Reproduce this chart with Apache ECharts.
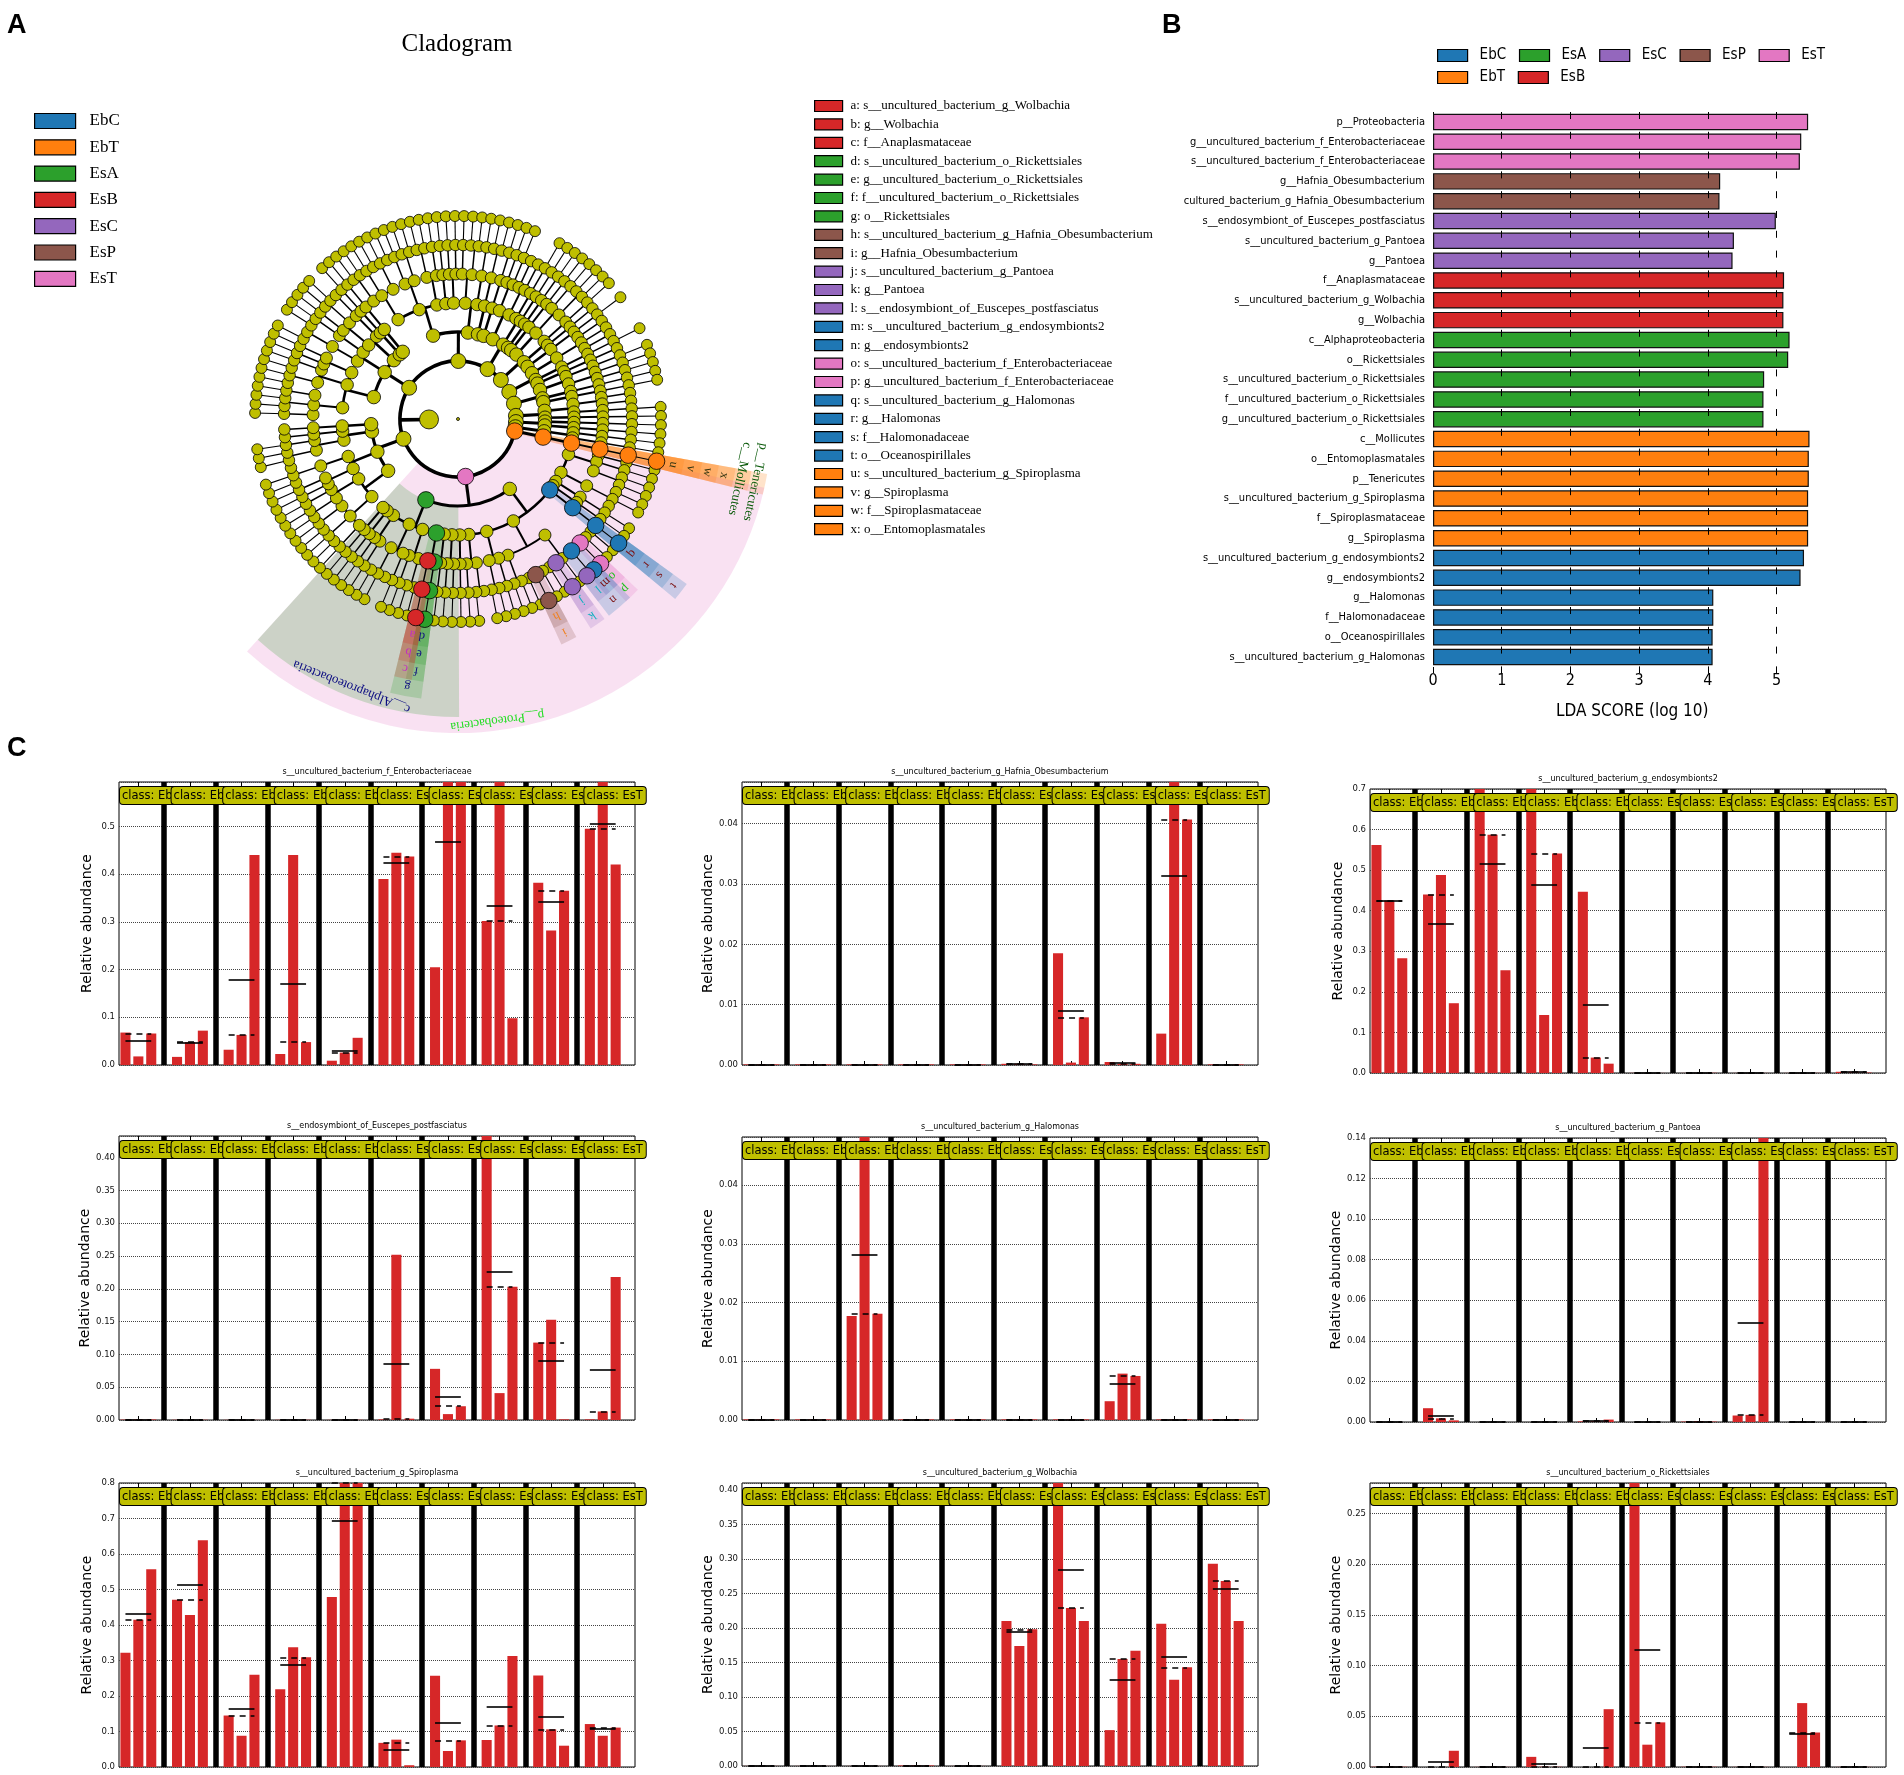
<!DOCTYPE html>
<html>
<head>
<meta charset="utf-8">
<title>LEfSe cladogram, LDA scores and abundances</title>
<script src="https://cdn.jsdelivr.net/npm/echarts@6/dist/echarts.min.js"></script>
<style>
html, body { margin: 0; padding: 0; background: #fff; }
#main { width: 1904px; height: 1775px; }
</style>
</head>
<body>
<div id="main"></div>
<script>
// ---------- data ----------
var classNames  = ['EbC', 'EbT', 'EsA', 'EsB', 'EsC', 'EsP', 'EsT'];
var classColors = ['#1f77b4', '#ff7f0e', '#2ca02c', '#d62728', '#9467bd', '#8c564b', '#e377c2'];

// panel B : LDA scores
var ldaNames = [
    'p__Proteobacteria', 'g__uncultured_bacterium_f_Enterobacteriaceae', 's__uncultured_bacterium_f_Enterobacteriaceae',
    'g__Hafnia_Obesumbacterium', 'cultured_bacterium_g_Hafnia_Obesumbacterium', 's__endosymbiont_of_Euscepes_postfasciatus',
    's__uncultured_bacterium_g_Pantoea', 'g__Pantoea', 'f__Anaplasmataceae', 's__uncultured_bacterium_g_Wolbachia',
    'g__Wolbachia', 'c__Alphaproteobacteria', 'o__Rickettsiales', 's__uncultured_bacterium_o_Rickettsiales',
    'f__uncultured_bacterium_o_Rickettsiales', 'g__uncultured_bacterium_o_Rickettsiales', 'c__Mollicutes',
    'o__Entomoplasmatales', 'p__Tenericutes', 's__uncultured_bacterium_g_Spiroplasma', 'f__Spiroplasmataceae',
    'g__Spiroplasma', 's__uncultured_bacterium_g_endosymbionts2', 'g__endosymbionts2', 'g__Halomonas',
    'f__Halomonadaceae', 'o__Oceanospirillales', 's__uncultured_bacterium_g_Halomonas'
];
var ldaScores = [5.46, 5.36, 5.34, 4.18, 4.17, 4.99, 4.38, 4.36, 5.11, 5.10, 5.10, 5.19, 5.17, 4.82,
                 4.81, 4.81, 5.48, 5.47, 5.47, 5.46, 5.46, 5.46, 5.40, 5.35, 4.08, 4.08, 4.07, 4.07];
var ldaClass = ['EsT', 'EsT', 'EsT', 'EsP', 'EsP', 'EsC', 'EsC', 'EsC', 'EsB', 'EsB', 'EsB', 'EsA', 'EsA', 'EsA',
                'EsA', 'EsA', 'EbT', 'EbT', 'EbT', 'EbT', 'EbT', 'EbT', 'EbC', 'EbC', 'EbC', 'EbC', 'EbC', 'EbC'];
var ldaTicks = [0, 1, 2, 3, 4, 5];

// panel A : biomarkers of the cladogram
var cladeLetters = ['a','b','c','d','e','f','g','h','i','j','k','l','m','n','o','p','q','r','s','t','u','v','w','x'];
var cladeTaxa = [
    's__uncultured_bacterium_g_Wolbachia', 'g__Wolbachia', 'f__Anaplasmataceae',
    's__uncultured_bacterium_o_Rickettsiales', 'g__uncultured_bacterium_o_Rickettsiales',
    'f__uncultured_bacterium_o_Rickettsiales', 'o__Rickettsiales',
    's__uncultured_bacterium_g_Hafnia_Obesumbacterium', 'g__Hafnia_Obesumbacterium',
    's__uncultured_bacterium_g_Pantoea', 'g__Pantoea', 's__endosymbiont_of_Euscepes_postfasciatus',
    's__uncultured_bacterium_g_endosymbionts2', 'g__endosymbionts2',
    's__uncultured_bacterium_f_Enterobacteriaceae', 'g__uncultured_bacterium_f_Enterobacteriaceae',
    's__uncultured_bacterium_g_Halomonas', 'g__Halomonas', 'f__Halomonadaceae', 'o__Oceanospirillales',
    's__uncultured_bacterium_g_Spiroplasma', 'g__Spiroplasma', 'f__Spiroplasmataceae', 'o__Entomoplasmatales'
];
var cladeClass = ['EsB','EsB','EsB','EsA','EsA','EsA','EsA','EsP','EsP','EsC','EsC','EsC',
                  'EbC','EbC','EsT','EsT','EbC','EbC','EbC','EbC','EbT','EbT','EbT','EbT'];
var bigKeys   = ['P_PRO', 'C_ALPHA', 'C_MOLL', 'P_TEN'];
var bigLabels = ['p__Proteobacteria', 'c__Alphaproteobacteria', 'c__Mollicutes', 'p__Tenericutes'];
var bigClass  = ['EsT', 'EsA', 'EbT', 'EbT'];
var bigTextColor = ['#22dd22', '#0a0a80', '#0a5a0a', '#0a5a0a'];
var letterTextColor = { EbC: '#7a1010', EbT: '#333310', EsA: '#101080', EsB: '#c030c0', EsC: '#10b0c0', EsP: '#f08020', EsT: '#20c020' };

// taxonomy tree (approximate topology)
// "(...)" internal node, "[key]" named node, digit k = unbranched lineage of k ranks
var TREE_TENERICUTES = '[P_TEN]([C_MOLL]([x]([w]([v]([u])))))';
var TREE_GAMMA = '((3,3,(2,2)),((2,2,1)),4,(3),[t]([s]([r]([q]))),((2,2,[p]([o]),[n]([m],[l]),2,[k]([j]),2,2,[i]([h]),2),(2,2)),(3,(2,2)),((1,2),3),4)';
var TREE_ALPHA = '[C_ALPHA]((3,3),4,[g]([f]([e]([d])),[c]([b]([a]))),((2,2),3),(3,(1,2,2)),((2),3),(3),4)';
var TREE_FIRMICUTES = '(((3,(2,2,2),3),((2,2),3)),((3,3),((2,2,1))),(((2,2),(2)),3),4)';
var TREE_BACTEROIDETES = '(((3,(2,2),3),((2,2,2),3),(3,3)),(((2,1,2)),4),((3,(2,2)),3),5,5)';
var TREE_ACTINOBACTERIA = '((((2,2),3,(2,2,2)),(3,(2,2)),((2,2),(2)),4,(3,3)),((3,(2,2)),4),(((2,2))),5)';
var TREE_SMALL_PHYLA = ['(((3,3),(2,2)),(4,4),5,5)', '(((3,(2,2))),(4,3),5)', '(((2,2,2)),(4),4)',
                        '((4,(3,3)),5,5)', '(((2,2),4),5)', '(5,5)', '((4,4))'];

// panel C : relative abundance, 10 classes x 3 samples
var sampleGroups = ['EbA', 'EbB', 'EbC', 'EbP', 'EbT', 'EsA', 'EsB', 'EsC', 'EsP', 'EsT'];
var abEnterobacteriaceae = [0.068,0.018,0.066, 0.017,0.048,0.072, 0.032,0.063,0.440, 0.023,0.440,0.048, 0.009,0.026,0.057,
                            0.390,0.445,0.437, 0.205,0.600,0.600, 0.302,0.600,0.098, 0.382,0.282,0.365, 0.495,0.600,0.420];
var abHafnia = [0.0001,0.0001,0.0001, 0.0001,0.0001,0.0001, 0.0001,0.0001,0.0001, 0.0001,0.0001,0.0001, 0.0001,0.0001,0.0001,
                0.0002,0.0002,0.0001, 0.0185,0.0004,0.0079, 0.0005,0.0002,0.0002, 0.0052,0.0480,0.0407, 0.0001,0.0000,0.0001];
var abEndosymbionts2 = [0.562,0.425,0.283, 0.440,0.488,0.172, 0.710,0.587,0.253, 0.705,0.143,0.541, 0.447,0.038,0.023,
                        0.0003,0.0002,0.0002, 0.0002,0.0003,0.0005, 0.0002,0.0002,0.0002, 0.0002,0.0002,0.0003, 0.003,0.003,0.001];
var abEuscepes = [0.0005,0.0010,0.0008, 0.0003,0.0003,0.0003, 0.0002,0.0003,0.0002, 0.0003,0.0003,0.0003, 0.0002,0.0003,0.0003,
                  0.001,0.252,0.002, 0.078,0.009,0.021, 0.435,0.041,0.203, 0.118,0.153,0.001, 0.001,0.013,0.218];
var abHalomonas = [0.0001,0.0001,0.0001, 0.0001,0.0001,0.0001, 0.0177,0.0485,0.0181, 0.0001,0.0001,0.0001, 0.0001,0.0001,0.0001,
                   0.0001,0.0001,0.0001, 0.0001,0.0001,0.0001, 0.0032,0.0079,0.0075, 0.0001,0.0001,0.0001, 0.0001,0.0001,0.0001];
var abPantoea = [0,0,0, 0.0068,0.0018,0.0008, 0,0,0, 0,0,0, 0.0003,0.0004,0.0012,
                 0,0,0, 0.0002,0.0005,0.0002, 0.0032,0.0035,0.1400, 0,0,0, 0,0,0];
var abSpiroplasma = [0.322,0.415,0.557, 0.471,0.428,0.639, 0.145,0.088,0.260, 0.219,0.337,0.309, 0.479,0.800,0.800,
                     0.068,0.077,0.005, 0.257,0.045,0.075, 0.076,0.117,0.313, 0.258,0.106,0.060, 0.121,0.088,0.111];
var abWolbachia = [0.0001,0.0001,0.0001, 0.0001,0.0001,0.0001, 0.0001,0.0001,0.0001, 0.0008,0.0010,0.0008, 0.0001,0.0001,0.0001,
                   0.210,0.174,0.198, 0.412,0.229,0.210, 0.052,0.155,0.167, 0.206,0.125,0.143, 0.293,0.268,0.210];
var abRickettsiales = [0.0002,0.0002,0.0002, 0,0,0.016, 0.0001,0.0001,0.0001, 0.010,0.0003,0.0002, 0,0,0.057,
                       0.281,0.022,0.044, 0.0002,0.0002,0.0002, 0.0001,0.0001,0.0001, 0,0.063,0.034, 0.0001,0.0001,0.0001];

var abTitles = ['s__uncultured_bacterium_f_Enterobacteriaceae', 's__uncultured_bacterium_g_Hafnia_Obesumbacterium',
                's__uncultured_bacterium_g_endosymbionts2', 's__endosymbiont_of_Euscepes_postfasciatus',
                's__uncultured_bacterium_g_Halomonas', 's__uncultured_bacterium_g_Pantoea',
                's__uncultured_bacterium_g_Spiroplasma', 's__uncultured_bacterium_g_Wolbachia',
                's__uncultured_bacterium_o_Rickettsiales'];
var abValues = [abEnterobacteriaceae, abHafnia, abEndosymbionts2, abEuscepes, abHalomonas, abPantoea,
                abSpiroplasma, abWolbachia, abRickettsiales];
var abMax = [0.593, 0.0469, 0.70, 0.433, 0.0482, 0.14, 0.80, 0.41, 0.28];
var abTickStep = [0.1, 0.01, 0.1, 0.05, 0.01, 0.02, 0.1, 0.05, 0.05];
var abDecimals = [1, 2, 1, 2, 2, 2, 1, 2, 2];

// ---------- layout / style ----------
var SERIF = '"Liberation Serif","DejaVu Serif",serif';
var SANS = '"DejaVu Sans",sans-serif';
var COND = '"DejaVu Sans Condensed","DejaVu Sans",sans-serif';
var ARIAL = '"Liberation Sans",Arial,sans-serif';
var YELLOW = '#bfbf00';

var RING = 29, START_ANGLE = -12;
var EDGE_W = [3.6, 3.1, 2.6, 2.0, 1.5, 1.1];
var NODE_SIZE = [3, 15, 13.5, 12.5, 12, 11.5, 11];
var LABEL_R = [0, 304, 288, 272, 255, 238, 220];

var cGrids = [[119, 782, 516, 283], [742, 782, 516, 283], [1370, 789, 516, 284],
              [119, 1136, 516, 284], [742, 1137, 516, 283], [1370, 1138, 516, 284],
              [119, 1483, 516, 284], [742, 1483, 516, 283], [1370, 1483, 516, 284]];

function colorOf(c) { return classColors[classNames.indexOf(c)]; }
function alpha(hex, a) {
    var n = parseInt(hex.slice(1), 16);
    return 'rgba(' + (n >> 16) + ',' + ((n >> 8) & 255) + ',' + (n & 255) + ',' + a + ')';
}
function norm(a) { return ((a % 360) + 360) % 360; }

// ---------- cladogram tree ----------
function parseTree(str) {
    var i = 0;
    function chain(depth, k) {
        var n = { depth: depth, children: [], key: null };
        if (k > 1) n.children.push(chain(depth + 1, k - 1));
        return n;
    }
    function item(depth) {
        var ch = str.charAt(i);
        if (ch >= '0' && ch <= '9') { i++; return chain(depth, +ch); }
        return node(depth);
    }
    function node(depth) {
        var n = { depth: depth, children: [], key: null };
        if (str.charAt(i) === '[') {
            var j = str.indexOf(']', i);
            n.key = str.slice(i + 1, j);
            i = j + 1;
        }
        if (str.charAt(i) === '(') {
            i++;
            while (i < str.length) {
                n.children.push(item(depth + 1));
                if (str.charAt(i) === ',') { i++; continue; }
                if (str.charAt(i) === ')') { i++; break; }
            }
        }
        return n;
    }
    return node(0);
}

var TREE = '(' + [TREE_TENERICUTES, '[P_PRO](' + TREE_GAMMA + ',' + TREE_ALPHA + ')', TREE_FIRMICUTES, '[U]',
                  TREE_BACTEROIDETES, TREE_ACTINOBACTERIA].concat(TREE_SMALL_PHYLA).join(',') + ')';
var root = parseTree(TREE);

var leaves = [], allNodes = [];
(function walk(n) { allNodes.push(n); if (!n.children.length) leaves.push(n); n.children.forEach(walk); })(root);
var STEP = 360 / leaves.length;
leaves.forEach(function (l, i) { l.ang = START_ANGLE - i * STEP; });

function ringR(d) { return d === 0 ? 0 : RING * (d + 1); }
(function place(n) {
    if (n.children.length) {
        n.children.forEach(place);
        var first = n.children[0], last = n.children[n.children.length - 1];
        n.ang = (first.ang + last.ang) / 2;
        n.hi = first.hi;
        n.lo = last.lo;
    } else {
        n.hi = n.lo = n.ang;
    }
    n.r = n.key === 'U' ? RING : ringR(n.depth);
})(root);

var cladeEdges = [];
(function edges(n) {
    if (!n.children.length) return;
    var rc = ringR(n.depth + 1), w = EDGE_W[n.depth];
    if (n.depth > 0) cladeEdges.push({ t: 'rad', a: n.ang, r1: n.r, r2: rc, w: w });
    if (n.children.length > 1) {
        cladeEdges.push({ t: 'arc', r: rc, a1: n.children[n.children.length - 1].ang, a2: n.children[0].ang, w: w });
    }
    n.children.forEach(function (c) {
        if (c.r !== rc) cladeEdges.push({ t: 'rad', a: c.ang, r1: c.r, r2: rc, w: w });
        edges(c);
    });
})(root);

var marker = {};
cladeLetters.forEach(function (k, i) { marker[k] = { cls: cladeClass[i], text: k, color: letterTextColor[cladeClass[i]], size: 12.5 }; });
bigKeys.forEach(function (k, i) { marker[k] = { cls: bigClass[i], text: bigLabels[i], color: bigTextColor[i], size: 13 }; });

var cladeSectors = [], cladeLabels = [], nodeData = [], nodeTop = [];
allNodes.forEach(function (n) {
    var m = n.key ? marker[n.key] : null;
    var size = n.depth === 0 ? NODE_SIZE[0] : (n.key === 'U' ? 19 : NODE_SIZE[n.depth]);
    var item = {
        value: [n.r, norm(n.ang)],
        symbolSize: m ? 16.5 : size,
        itemStyle: { color: m ? colorOf(m.cls) : YELLOW }
    };
    if (m) {
        nodeTop.push(item);
        var lr = LABEL_R[n.depth];
        cladeSectors.push({ r0: n.r, r1: lr + 10, lo: n.lo - STEP * 0.75, hi: n.hi + STEP * 0.75,
                            color: alpha(colorOf(m.cls), 0.22), big: n.depth <= 2 });
        cladeLabels.push({ r: lr, ang: n.ang, text: m.text, color: m.color, size: m.size });
    } else {
        nodeData.push(item);
    }
});
nodeData = nodeData.concat(nodeTop);
cladeSectors.sort(function (a, b) { return (b.big ? 1 : 0) - (a.big ? 1 : 0); });

function pixR(api, c, R) {
    var p = api.coord([R, 0]);
    return Math.sqrt((p[0] - c[0]) * (p[0] - c[0]) + (p[1] - c[1]) * (p[1] - c[1]));
}

// ---------- option pieces ----------
var titles = [
    { text: 'A', left: 7, top: 12, padding: 0, textStyle: { fontSize: 27, fontWeight: 'bold', fontFamily: ARIAL, color: '#000' } },
    { text: 'B', left: 1162, top: 12, padding: 0, textStyle: { fontSize: 27, fontWeight: 'bold', fontFamily: ARIAL, color: '#000' } },
    { text: 'C', left: 7, top: 735, padding: 0, textStyle: { fontSize: 27, fontWeight: 'bold', fontFamily: ARIAL, color: '#000' } },
    { text: 'Cladogram', left: 457, top: 32, padding: 0, textAlign: 'center',
      textStyle: { fontSize: 25, fontWeight: 'normal', fontFamily: SERIF, color: '#000' } }
];

var legendBase = { selectedMode: false, padding: 0, icon: 'rect', itemStyle: { borderColor: '#000', borderWidth: 1.2, opacity: 1 } };
function legend(extra) { return Object.assign({}, legendBase, extra); }

var legends = [
    legend({ data: classNames, orient: 'vertical', left: 34, top: 111, itemWidth: 41, itemHeight: 15, itemGap: 6.3,
             textStyle: { fontSize: 17, fontFamily: SERIF, color: '#000', lineHeight: 20, padding: [0, 0, 0, 9] } }),
    legend({ data: ['EbC', 'EsA', 'EsC', 'EsP', 'EsT'], orient: 'horizontal', left: 1437, top: 48, itemWidth: 30, itemHeight: 12,
             itemGap: 12.8, textStyle: { fontSize: 15, fontFamily: COND, color: '#000', width: 42, padding: [0, 0, 0, 7] } }),
    legend({ data: ['EbT', 'EsB'], orient: 'horizontal', left: 1437, top: 70, itemWidth: 30, itemHeight: 12,
             itemGap: 12.8, textStyle: { fontSize: 15, fontFamily: COND, color: '#000', width: 42, padding: [0, 0, 0, 7] } }),
    legend({ data: cladeLetters.map(function (k, i) { return k + ': ' + cladeTaxa[i]; }), orient: 'vertical', left: 814, top: 98.5,
             itemWidth: 28, itemHeight: 11, itemGap: 3.4,
             textStyle: { fontSize: 13, fontFamily: SERIF, color: '#000', lineHeight: 15, padding: [0, 0, 0, 3] } })
];

var grids = [{ left: 1433, top: 112, width: 398.5, height: 555, outerBoundsMode: 'none' }];
var xAxes = [
    { gridIndex: 0, type: 'value', min: 0, max: 5.8, position: 'bottom',
      axisLine: { show: false },
      axisTick: { show: true, length: 6, customValues: ldaTicks, lineStyle: { color: '#000', width: 1 } },
      axisLabel: { customValues: ldaTicks, fontSize: 16, fontFamily: COND, color: '#000', margin: 6 },
      splitLine: { show: false },
      name: 'LDA SCORE (log 10)', nameLocation: 'middle', nameGap: 36,
      nameTextStyle: { fontSize: 17, fontFamily: COND, color: '#000' } },
    { gridIndex: 0, type: 'value', min: 0, max: 5.8, position: 'top',
      axisLine: { show: false },
      axisTick: { show: true, inside: true, length: 6, customValues: ldaTicks, lineStyle: { color: '#000', width: 1 } },
      axisLabel: { show: false }, splitLine: { show: false } }
];
var yAxes = [
    { gridIndex: 0, type: 'category', data: ldaNames, inverse: true,
      axisLine: { show: false }, axisTick: { show: false },
      axisLabel: { fontSize: 11, fontFamily: COND, color: '#000', margin: 8, interval: 0 } }
];

var series = [];

// panel B bars, one series per class so the legend shows the classes
classNames.forEach(function (c, ci) {
    series.push({
        type: 'bar', name: c, xAxisIndex: 0, yAxisIndex: 0, stack: 'lda', barCategoryGap: '17%',
        itemStyle: { color: classColors[ci], borderColor: '#111', borderWidth: 1.2 },
        data: ldaScores.map(function (v, i) { return ldaClass[i] === c ? v : null; })
    });
});
// dashed grid lines of panel B, drawn over the bars
series.push({
    type: 'line', name: 'lda grid', xAxisIndex: 0, yAxisIndex: 0, data: [], z: 6, silent: true,
    markLine: {
        silent: true, symbol: ['none', 'none'], label: { show: false }, z: 6,
        lineStyle: { color: '#000', width: 1, type: [7, 12.8] },
        data: ldaTicks.slice(1).map(function (t) { return { xAxis: t }; })
    }
});

// cladogram
series.push({
    type: 'custom', name: 'sectors', coordinateSystem: 'polar', z: 1, silent: true,
    data: cladeSectors.map(function (s) { return [s.r1, norm(s.lo)]; }),
    renderItem: function (params, api) {
        var s = cladeSectors[params.dataIndex];
        var c = api.coord([0, 0]);
        return {
            type: 'sector',
            shape: { cx: c[0], cy: c[1], r0: pixR(api, c, s.r0), r: pixR(api, c, s.r1),
                     startAngle: -s.hi * Math.PI / 180, endAngle: -s.lo * Math.PI / 180, clockwise: true },
            style: { fill: s.color, stroke: 'none' }
        };
    }
});
series.push({
    type: 'custom', name: 'edges', coordinateSystem: 'polar', z: 2, silent: true,
    data: cladeEdges.map(function (e) { return [e.t === 'arc' ? e.r : e.r2, 0]; }),
    renderItem: function (params, api) {
        var e = cladeEdges[params.dataIndex];
        var c = api.coord([0, 0]);
        if (e.t === 'arc') {
            return {
                type: 'arc',
                shape: { cx: c[0], cy: c[1], r: pixR(api, c, e.r),
                         startAngle: -e.a2 * Math.PI / 180, endAngle: -e.a1 * Math.PI / 180, clockwise: true },
                style: { stroke: '#000', lineWidth: e.w, fill: 'none' }
            };
        }
        var p1 = api.coord([e.r1, norm(e.a)]), p2 = api.coord([e.r2, norm(e.a)]);
        return { type: 'line', shape: { x1: p1[0], y1: p1[1], x2: p2[0], y2: p2[1] },
                 style: { stroke: '#000', lineWidth: e.w } };
    }
});
series.push({
    type: 'scatter', name: 'nodes', coordinateSystem: 'polar', z: 3, silent: true, symbol: 'circle',
    itemStyle: { borderColor: '#000', borderWidth: 0.8, opacity: 1 },
    data: nodeData
});
series.push({
    type: 'custom', name: 'clade labels', coordinateSystem: 'polar', z: 4, silent: true,
    data: cladeLabels.map(function (l) { return [l.r, norm(l.ang)]; }),
    renderItem: function (params, api) {
        var l = cladeLabels[params.dataIndex];
        var p = api.coord([l.r, norm(l.ang)]);
        return {
            type: 'text', x: p[0], y: p[1], rotation: (l.ang - 90) * Math.PI / 180,
            style: { text: l.text, fill: l.color, font: l.size + 'px ' + SERIF,
                     align: 'center', verticalAlign: 'middle', textAlign: 'center', textVerticalAlign: 'middle' }
        };
    }
});
// legend entries of the biomarker letters
cladeLetters.forEach(function (k, i) {
    series.push({
        type: 'scatter', coordinateSystem: 'polar', name: k + ': ' + cladeTaxa[i], data: [],
        itemStyle: { color: colorOf(cladeClass[i]), borderColor: '#000', borderWidth: 1.2, opacity: 1 }
    });
});

// panel C : nine abundance plots
var slotNames = [];
sampleGroups.forEach(function (g, gi) { ['a', 'b', 'c', 's'].forEach(function (s) { slotNames.push('g' + gi + s); }); });

abValues.forEach(function (vals, k) {
    var g = cGrids[k], gi = k + 1, xb = 2 + k * 2, yi = k + 1;
    var ymax = abMax[k], step = abTickStep[k], dec = abDecimals[k];
    grids.push({ left: g[0], top: g[1], width: g[2], height: g[3], show: true, borderColor: '#000', borderWidth: 1,
                 backgroundColor: 'transparent', outerBoundsMode: 'none' });
    titles.push({ text: abTitles[k], left: g[0] + g[2] / 2, top: g[1] - 14, padding: 0, textAlign: 'center',
                  textStyle: { fontSize: 8, fontWeight: 'normal', fontFamily: SANS, color: '#000' } });
    var tickAxis = function (pos) {
        return { gridIndex: gi, type: 'category', data: slotNames, boundaryGap: true, position: pos,
                 axisLine: { show: false }, axisLabel: { show: false }, splitLine: { show: false },
                 axisTick: { show: true, inside: true, length: 4, alignWithLabel: true,
                             interval: function (i) { return i % 4 === 1; }, lineStyle: { color: '#000' } } };
    };
    xAxes.push(tickAxis('bottom'));
    xAxes.push(tickAxis('top'));
    yAxes.push({
        gridIndex: gi, type: 'value', min: 0, max: ymax, interval: step,
        axisLine: { show: false }, axisTick: { show: false },
        axisLabel: { fontSize: 8.5, fontFamily: SANS, color: '#111', margin: 4,
                     formatter: function (v) {
                         var q = v / step;
                         return Math.abs(q - Math.round(q)) > 1e-6 ? '' : v.toFixed(dec);
                     } },
        splitLine: { show: true, lineStyle: { color: '#444', type: 'dotted', width: 1 } },
        name: 'Relative abundance', nameLocation: 'middle', nameGap: 25, nameRotate: 90,
        nameTextStyle: { fontSize: 14, fontFamily: SANS, color: '#000' }
    });

    var barData = [], lines = [];
    sampleGroups.forEach(function (s, gIdx) {
        var trio = vals.slice(gIdx * 3, gIdx * 3 + 3);
        barData.push(trio[0], trio[1], trio[2], null);
        if (gIdx < sampleGroups.length - 1) {
            lines.push({ xAxis: 'g' + gIdx + 's', lineStyle: { color: '#000', width: 5.5, type: 'solid' } });
        }
        var mean = (trio[0] + trio[1] + trio[2]) / 3;
        var median = trio.slice().sort(function (a, b) { return a - b; })[1];
        var a = 'g' + gIdx + 'a', c = 'g' + gIdx + 'c';
        if (median <= ymax) {
            var ms = { color: '#000', width: 1.6, type: [6, 5] };
            lines.push([{ coord: [a, median], lineStyle: ms }, { coord: [c, median], lineStyle: ms }]);
        }
        if (mean <= ymax) {
            var ls = { color: '#000', width: 1.6, type: 'solid' };
            lines.push([{ coord: [a, mean], lineStyle: ls }, { coord: [c, mean], lineStyle: ls }]);
        }
    });
    series.push({
        type: 'bar', name: abTitles[k], xAxisIndex: xb, yAxisIndex: yi, barWidth: '78%', clip: true,
        itemStyle: { color: '#d62728' }, data: barData, silent: true,
        markLine: { silent: true, symbol: ['none', 'none'], label: { show: false }, animation: false,
                    emphasis: { disabled: true }, data: lines }
    });
    // "class: ..." boxes at the top of each group; each box covers the overflow of the previous one
    series.push({
        type: 'custom', name: 'class boxes ' + k, xAxisIndex: xb, yAxisIndex: yi, z: 10, silent: true, clip: false,
        data: sampleGroups.map(function (s, gIdx) { return [gIdx * 4, ymax]; }),
        renderItem: function (params, api) {
            var p = api.coord([api.value(0), api.value(1)]);
            var slot = api.size([1, 0])[0];
            return {
                type: 'text', x: p[0] - slot / 2 + 1, y: p[1] + 5,
                style: { text: 'class: ' + sampleGroups[params.dataIndex], fill: '#000', font: '11.5px ' + SANS,
                         align: 'left', verticalAlign: 'top', textAlign: 'left', textVerticalAlign: 'top',
                         backgroundColor: YELLOW, borderColor: '#000', borderWidth: 1, borderRadius: 3, padding: [3, 3, 2, 2] }
            };
        }
    });
});

var option = {
    animation: false,
    backgroundColor: '#fff',
    title: titles,
    legend: legends,
    polar: { center: [458, 419], radius: 350 },
    angleAxis: { type: 'value', min: 0, max: 360, startAngle: 0, clockwise: false, show: false },
    radiusAxis: { type: 'value', min: 0, max: 350, show: false },
    grid: grids,
    xAxis: xAxes,
    yAxis: yAxes,
    series: series
};

var chart = echarts.init(document.getElementById('main'));
chart.setOption(option);
</script>
</body>
</html>
